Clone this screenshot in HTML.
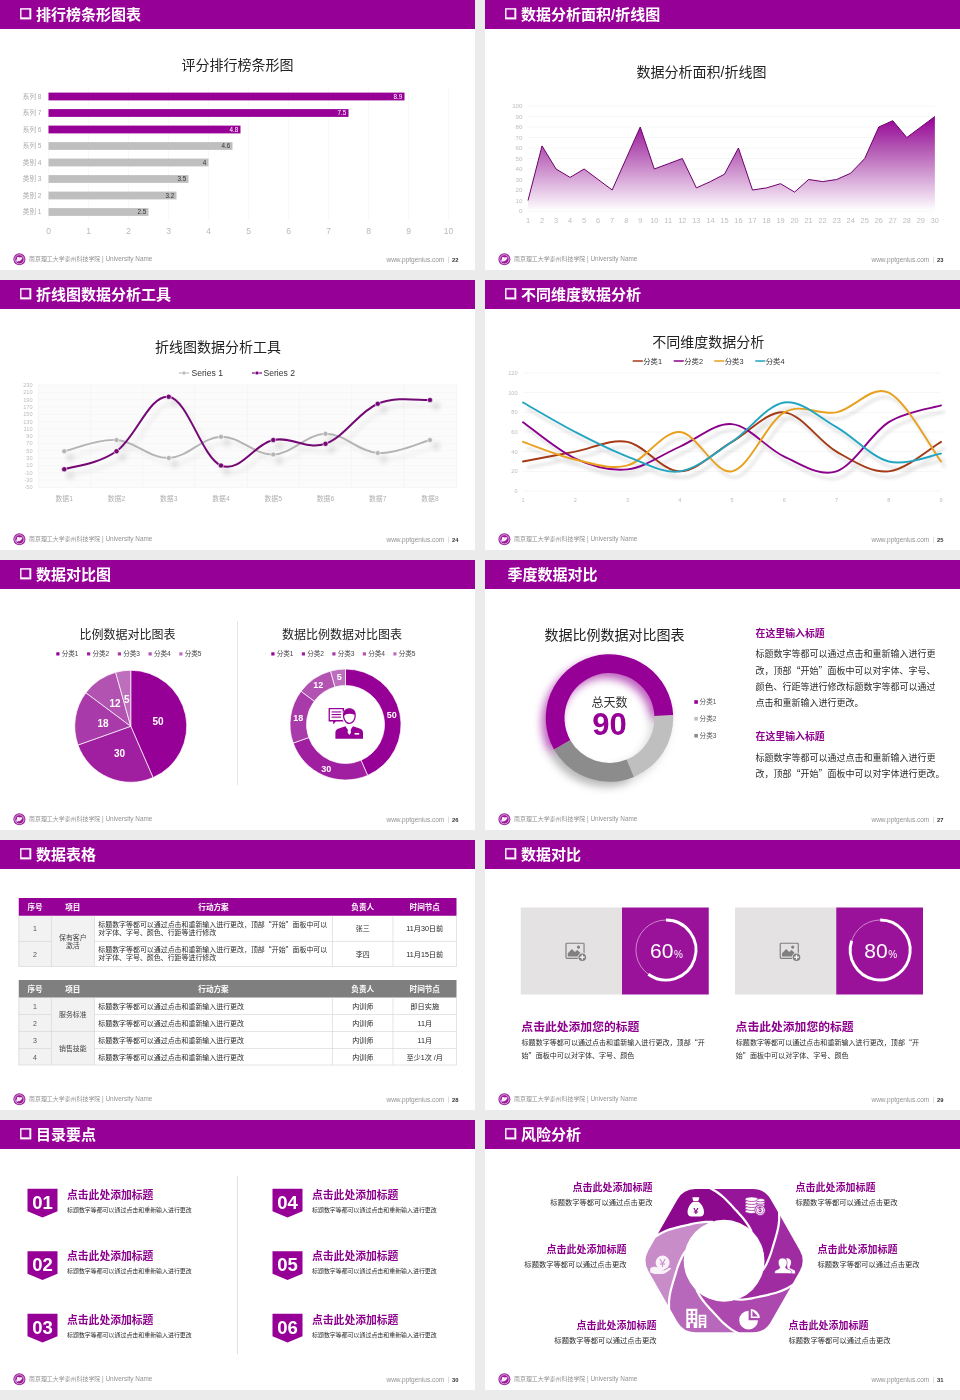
<!DOCTYPE html>
<html lang="zh-CN">
<head>
<meta charset="utf-8">
<title>数据图表模板</title>
<style>
html,body{margin:0;padding:0;}
body{width:960px;height:1400px;background:#ebebeb;position:relative;overflow:hidden;font-family:"Liberation Sans", "Noto Sans CJK SC", sans-serif;}
.s{position:absolute;display:block;}
.s text{font-family:"Liberation Sans", "Noto Sans CJK SC", sans-serif;}
.s text.cj{font-family:"Noto Sans CJK SC","Liberation Sans",sans-serif;}
</style>
</head>
<body>
<svg class="s" style="left:0px;top:0px" width="475" height="270" viewBox="0 0 475 270"><rect width="475" height="270" fill="#fff"/><rect x="0" y="0" width="475" height="29" fill="#960096"/><rect x="20.1" y="8.2" width="11.2" height="11.2" fill="#fff"/><rect x="21.5" y="9.6" width="7.5" height="7.5" fill="#960096"/><rect x="29" y="9.6" width="1" height="8.5" fill="#d9a3d9"/><rect x="21.5" y="17.1" width="8.5" height="1" fill="#d9a3d9"/><text x="36.00" y="19.70" font-size="15" fill="#fff" font-weight="bold">排行榜条形图表</text><text x="237.50" y="70.04" font-size="14" fill="#222" text-anchor="middle">评分排行榜条形图</text><rect x="48.25" y="88" width="0.5" height="132" fill="#f0f0f0"/><text x="48.50" y="234.06" font-size="8.5" fill="#b9b9b9" text-anchor="middle">0</text><rect x="88.25" y="88" width="0.5" height="132" fill="#f0f0f0"/><text x="88.50" y="234.06" font-size="8.5" fill="#b9b9b9" text-anchor="middle">1</text><rect x="128.25" y="88" width="0.5" height="132" fill="#f0f0f0"/><text x="128.50" y="234.06" font-size="8.5" fill="#b9b9b9" text-anchor="middle">2</text><rect x="168.25" y="88" width="0.5" height="132" fill="#f0f0f0"/><text x="168.50" y="234.06" font-size="8.5" fill="#b9b9b9" text-anchor="middle">3</text><rect x="208.25" y="88" width="0.5" height="132" fill="#f0f0f0"/><text x="208.50" y="234.06" font-size="8.5" fill="#b9b9b9" text-anchor="middle">4</text><rect x="248.25" y="88" width="0.5" height="132" fill="#f0f0f0"/><text x="248.50" y="234.06" font-size="8.5" fill="#b9b9b9" text-anchor="middle">5</text><rect x="288.25" y="88" width="0.5" height="132" fill="#f0f0f0"/><text x="288.50" y="234.06" font-size="8.5" fill="#b9b9b9" text-anchor="middle">6</text><rect x="328.25" y="88" width="0.5" height="132" fill="#f0f0f0"/><text x="328.50" y="234.06" font-size="8.5" fill="#b9b9b9" text-anchor="middle">7</text><rect x="368.25" y="88" width="0.5" height="132" fill="#f0f0f0"/><text x="368.50" y="234.06" font-size="8.5" fill="#b9b9b9" text-anchor="middle">8</text><rect x="408.25" y="88" width="0.5" height="132" fill="#f0f0f0"/><text x="408.50" y="234.06" font-size="8.5" fill="#b9b9b9" text-anchor="middle">9</text><rect x="448.25" y="88" width="0.5" height="132" fill="#f0f0f0"/><text x="448.50" y="234.06" font-size="8.5" fill="#b9b9b9" text-anchor="middle">10</text><rect x="48.5" y="92.60" width="356.00" height="7.8" fill="#960096"/><text x="41.50" y="98.98" font-size="6.6" fill="#ababab" text-anchor="end">系列 8</text><text x="402.30" y="98.97" font-size="6.3" fill="#fff" text-anchor="end">8.9</text><rect x="48.5" y="109.10" width="300.00" height="7.8" fill="#960096"/><text x="41.50" y="115.48" font-size="6.6" fill="#ababab" text-anchor="end">系列 7</text><text x="346.30" y="115.47" font-size="6.3" fill="#fff" text-anchor="end">7.5</text><rect x="48.5" y="125.60" width="192.00" height="7.8" fill="#960096"/><text x="41.50" y="131.98" font-size="6.6" fill="#ababab" text-anchor="end">系列 6</text><text x="238.30" y="131.97" font-size="6.3" fill="#fff" text-anchor="end">4.8</text><rect x="48.5" y="142.10" width="184.00" height="7.8" fill="#bfbfbf"/><text x="41.50" y="148.48" font-size="6.6" fill="#ababab" text-anchor="end">系列 5</text><text x="230.30" y="148.47" font-size="6.3" fill="#333" text-anchor="end">4.6</text><rect x="48.5" y="158.60" width="160.00" height="7.8" fill="#bfbfbf"/><text x="41.50" y="164.98" font-size="6.6" fill="#ababab" text-anchor="end">类别 4</text><text x="206.30" y="164.97" font-size="6.3" fill="#333" text-anchor="end">4</text><rect x="48.5" y="175.10" width="140.00" height="7.8" fill="#bfbfbf"/><text x="41.50" y="181.48" font-size="6.6" fill="#ababab" text-anchor="end">类别 3</text><text x="186.30" y="181.47" font-size="6.3" fill="#333" text-anchor="end">3.5</text><rect x="48.5" y="191.60" width="128.00" height="7.8" fill="#bfbfbf"/><text x="41.50" y="197.98" font-size="6.6" fill="#ababab" text-anchor="end">类别 2</text><text x="174.30" y="197.97" font-size="6.3" fill="#333" text-anchor="end">3.2</text><rect x="48.5" y="208.10" width="100.00" height="7.8" fill="#bfbfbf"/><text x="41.50" y="214.48" font-size="6.6" fill="#ababab" text-anchor="end">类别 1</text><text x="146.30" y="214.47" font-size="6.3" fill="#333" text-anchor="end">2.5</text><circle cx="19.4" cy="259.3" r="6" fill="#9a1a9a"/><circle cx="19.4" cy="259.3" r="4.6" fill="none" stroke="#fff" stroke-width="0.6"/><path d="M16 261.5 C16.5 257.5 19 256.5 22.6 257.6 C21.5 260.8 19.5 262 16 261.5 Z" fill="#fff" opacity="0.9"/><circle cx="18" cy="258" r="1.1" fill="#fff"/><text x="29.00" y="261.44" font-size="5.95" fill="#939393">南京理工大学泰州科技学院<tspan font-size="6.4"> | University Name</tspan></text><text x="444.30" y="261.94" font-size="6.5" fill="#939393" text-anchor="end">www.pptgenius.com</text><rect x="448.2" y="256.6" width="0.6" height="6.4" fill="#c8c8c8"/><text x="452.00" y="261.79" font-size="5.8" fill="#333" font-weight="bold">22</text></svg>
<svg class="s" style="left:485px;top:0px" width="475" height="270" viewBox="0 0 475 270"><rect width="475" height="270" fill="#fff"/><rect x="0" y="0" width="475" height="29" fill="#960096"/><rect x="20.1" y="8.2" width="11.2" height="11.2" fill="#fff"/><rect x="21.5" y="9.6" width="7.5" height="7.5" fill="#960096"/><rect x="29" y="9.6" width="1" height="8.5" fill="#d9a3d9"/><rect x="21.5" y="17.1" width="8.5" height="1" fill="#d9a3d9"/><text x="36.00" y="19.70" font-size="15" fill="#fff" font-weight="bold">数据分析面积/折线图</text><text x="216.50" y="76.54" font-size="14" fill="#222" text-anchor="middle">数据分析面积/折线图</text><defs><linearGradient id="ga" x1="0" y1="0" x2="0" y2="1" gradientUnits="objectBoundingBox"><stop offset="0" stop-color="#960096"/><stop offset="0.35" stop-color="#b45ab4"/><stop offset="0.7" stop-color="#dcb2dc"/><stop offset="1" stop-color="#ffffff"/></linearGradient></defs><rect x="43.0" y="210.75" width="406.87" height="0.5" fill="#efefef"/><text x="37.50" y="213.23" font-size="6.2" fill="#bdbdbd" text-anchor="end">0</text><rect x="43.0" y="200.25" width="406.87" height="0.5" fill="#efefef"/><text x="37.50" y="202.73" font-size="6.2" fill="#bdbdbd" text-anchor="end">10</text><rect x="43.0" y="189.75" width="406.87" height="0.5" fill="#efefef"/><text x="37.50" y="192.23" font-size="6.2" fill="#bdbdbd" text-anchor="end">20</text><rect x="43.0" y="179.25" width="406.87" height="0.5" fill="#efefef"/><text x="37.50" y="181.73" font-size="6.2" fill="#bdbdbd" text-anchor="end">30</text><rect x="43.0" y="168.75" width="406.87" height="0.5" fill="#efefef"/><text x="37.50" y="171.23" font-size="6.2" fill="#bdbdbd" text-anchor="end">40</text><rect x="43.0" y="158.25" width="406.87" height="0.5" fill="#efefef"/><text x="37.50" y="160.73" font-size="6.2" fill="#bdbdbd" text-anchor="end">50</text><rect x="43.0" y="147.75" width="406.87" height="0.5" fill="#efefef"/><text x="37.50" y="150.23" font-size="6.2" fill="#bdbdbd" text-anchor="end">60</text><rect x="43.0" y="137.25" width="406.87" height="0.5" fill="#efefef"/><text x="37.50" y="139.73" font-size="6.2" fill="#bdbdbd" text-anchor="end">70</text><rect x="43.0" y="126.75" width="406.87" height="0.5" fill="#efefef"/><text x="37.50" y="129.23" font-size="6.2" fill="#bdbdbd" text-anchor="end">80</text><rect x="43.0" y="116.25" width="406.87" height="0.5" fill="#efefef"/><text x="37.50" y="118.73" font-size="6.2" fill="#bdbdbd" text-anchor="end">90</text><rect x="43.0" y="105.75" width="406.87" height="0.5" fill="#efefef"/><text x="37.50" y="108.23" font-size="6.2" fill="#bdbdbd" text-anchor="end">100</text><path d="M43.00 200.50 L57.03 145.90 L71.06 169.00 L85.09 177.40 L99.12 169.00 L113.15 179.50 L127.18 190.00 L141.21 158.50 L155.24 127.00 L169.27 169.00 L183.30 163.75 L197.33 158.50 L211.36 187.90 L225.39 181.60 L239.42 174.25 L253.45 148.00 L267.48 190.00 L281.51 187.90 L295.54 183.70 L309.57 192.10 L323.60 179.50 L337.63 181.60 L351.66 179.50 L365.69 173.20 L379.72 158.50 L393.75 127.00 L407.78 120.70 L421.81 137.50 L435.84 127.00 L449.87 116.50 L449.87 211.0 L43.0 211.0 Z" fill="url(#ga)"/><path d="M43.00 200.50 L57.03 145.90 L71.06 169.00 L85.09 177.40 L99.12 169.00 L113.15 179.50 L127.18 190.00 L141.21 158.50 L155.24 127.00 L169.27 169.00 L183.30 163.75 L197.33 158.50 L211.36 187.90 L225.39 181.60 L239.42 174.25 L253.45 148.00 L267.48 190.00 L281.51 187.90 L295.54 183.70 L309.57 192.10 L323.60 179.50 L337.63 181.60 L351.66 179.50 L365.69 173.20 L379.72 158.50 L393.75 127.00 L407.78 120.70 L421.81 137.50 L435.84 127.00 L449.87 116.50" fill="none" stroke="#6e006e" stroke-width="1" stroke-linejoin="round"/><text x="43.00" y="223.16" font-size="7.4" fill="#bdbdbd" text-anchor="middle">1</text><text x="57.03" y="223.16" font-size="7.4" fill="#bdbdbd" text-anchor="middle">2</text><text x="71.06" y="223.16" font-size="7.4" fill="#bdbdbd" text-anchor="middle">3</text><text x="85.09" y="223.16" font-size="7.4" fill="#bdbdbd" text-anchor="middle">4</text><text x="99.12" y="223.16" font-size="7.4" fill="#bdbdbd" text-anchor="middle">5</text><text x="113.15" y="223.16" font-size="7.4" fill="#bdbdbd" text-anchor="middle">6</text><text x="127.18" y="223.16" font-size="7.4" fill="#bdbdbd" text-anchor="middle">7</text><text x="141.21" y="223.16" font-size="7.4" fill="#bdbdbd" text-anchor="middle">8</text><text x="155.24" y="223.16" font-size="7.4" fill="#bdbdbd" text-anchor="middle">9</text><text x="169.27" y="223.16" font-size="7.4" fill="#bdbdbd" text-anchor="middle">10</text><text x="183.30" y="223.16" font-size="7.4" fill="#bdbdbd" text-anchor="middle">11</text><text x="197.33" y="223.16" font-size="7.4" fill="#bdbdbd" text-anchor="middle">12</text><text x="211.36" y="223.16" font-size="7.4" fill="#bdbdbd" text-anchor="middle">13</text><text x="225.39" y="223.16" font-size="7.4" fill="#bdbdbd" text-anchor="middle">14</text><text x="239.42" y="223.16" font-size="7.4" fill="#bdbdbd" text-anchor="middle">15</text><text x="253.45" y="223.16" font-size="7.4" fill="#bdbdbd" text-anchor="middle">16</text><text x="267.48" y="223.16" font-size="7.4" fill="#bdbdbd" text-anchor="middle">17</text><text x="281.51" y="223.16" font-size="7.4" fill="#bdbdbd" text-anchor="middle">18</text><text x="295.54" y="223.16" font-size="7.4" fill="#bdbdbd" text-anchor="middle">19</text><text x="309.57" y="223.16" font-size="7.4" fill="#bdbdbd" text-anchor="middle">20</text><text x="323.60" y="223.16" font-size="7.4" fill="#bdbdbd" text-anchor="middle">21</text><text x="337.63" y="223.16" font-size="7.4" fill="#bdbdbd" text-anchor="middle">22</text><text x="351.66" y="223.16" font-size="7.4" fill="#bdbdbd" text-anchor="middle">23</text><text x="365.69" y="223.16" font-size="7.4" fill="#bdbdbd" text-anchor="middle">24</text><text x="379.72" y="223.16" font-size="7.4" fill="#bdbdbd" text-anchor="middle">25</text><text x="393.75" y="223.16" font-size="7.4" fill="#bdbdbd" text-anchor="middle">26</text><text x="407.78" y="223.16" font-size="7.4" fill="#bdbdbd" text-anchor="middle">27</text><text x="421.81" y="223.16" font-size="7.4" fill="#bdbdbd" text-anchor="middle">28</text><text x="435.84" y="223.16" font-size="7.4" fill="#bdbdbd" text-anchor="middle">29</text><text x="449.87" y="223.16" font-size="7.4" fill="#bdbdbd" text-anchor="middle">30</text><circle cx="19.4" cy="259.3" r="6" fill="#9a1a9a"/><circle cx="19.4" cy="259.3" r="4.6" fill="none" stroke="#fff" stroke-width="0.6"/><path d="M16 261.5 C16.5 257.5 19 256.5 22.6 257.6 C21.5 260.8 19.5 262 16 261.5 Z" fill="#fff" opacity="0.9"/><circle cx="18" cy="258" r="1.1" fill="#fff"/><text x="29.00" y="261.44" font-size="5.95" fill="#939393">南京理工大学泰州科技学院<tspan font-size="6.4"> | University Name</tspan></text><text x="444.30" y="261.94" font-size="6.5" fill="#939393" text-anchor="end">www.pptgenius.com</text><rect x="448.2" y="256.6" width="0.6" height="6.4" fill="#c8c8c8"/><text x="452.00" y="261.79" font-size="5.8" fill="#333" font-weight="bold">23</text></svg>
<svg class="s" style="left:0px;top:280px" width="475" height="270" viewBox="0 0 475 270"><rect width="475" height="270" fill="#fff"/><rect x="0" y="0" width="475" height="29" fill="#960096"/><rect x="20.1" y="8.2" width="11.2" height="11.2" fill="#fff"/><rect x="21.5" y="9.6" width="7.5" height="7.5" fill="#960096"/><rect x="29" y="9.6" width="1" height="8.5" fill="#d9a3d9"/><rect x="21.5" y="17.1" width="8.5" height="1" fill="#d9a3d9"/><text x="36.00" y="19.70" font-size="15" fill="#fff" font-weight="bold">折线图数据分析工具</text><defs><filter id="sh2" x="-10%" y="-30%" width="120%" height="180%"><feGaussianBlur stdDeviation="2.2"/></filter></defs><text x="218.00" y="72.04" font-size="14" fill="#222" text-anchor="middle">折线图数据分析工具</text><rect x="179" y="92.4" width="10" height="1.2" fill="#bdbdbd"/><circle cx="184" cy="93" r="1.9" fill="#b5b5b5" stroke="#fff" stroke-width="0.6"/><text x="191.50" y="96.10" font-size="8.6" fill="#333">Series 1</text><rect x="252" y="92.4" width="10" height="1.2" fill="#7d007d"/><circle cx="257" cy="93" r="1.9" fill="#7d007d" stroke="#fff" stroke-width="0.6"/><text x="263.50" y="96.10" font-size="8.6" fill="#333">Series 2</text><rect x="38.5" y="105.0" width="418.0" height="102.30000000000001" fill="#fbfbfb" stroke="#f0f0f0" stroke-width="0.6"/><text x="32.50" y="107.02" font-size="5.6" fill="#bdbdbd" text-anchor="end">230</text><rect x="38.5" y="112.06" width="418.0" height="0.5" fill="#f3f3f3"/><text x="32.50" y="114.32" font-size="5.6" fill="#bdbdbd" text-anchor="end">210</text><rect x="38.5" y="119.36" width="418.0" height="0.5" fill="#f3f3f3"/><text x="32.50" y="121.63" font-size="5.6" fill="#bdbdbd" text-anchor="end">190</text><rect x="38.5" y="126.67" width="418.0" height="0.5" fill="#f3f3f3"/><text x="32.50" y="128.94" font-size="5.6" fill="#bdbdbd" text-anchor="end">170</text><rect x="38.5" y="133.98" width="418.0" height="0.5" fill="#f3f3f3"/><text x="32.50" y="136.24" font-size="5.6" fill="#bdbdbd" text-anchor="end">150</text><rect x="38.5" y="141.29" width="418.0" height="0.5" fill="#f3f3f3"/><text x="32.50" y="143.55" font-size="5.6" fill="#bdbdbd" text-anchor="end">130</text><rect x="38.5" y="148.59" width="418.0" height="0.5" fill="#f3f3f3"/><text x="32.50" y="150.86" font-size="5.6" fill="#bdbdbd" text-anchor="end">110</text><rect x="38.5" y="155.90" width="418.0" height="0.5" fill="#f3f3f3"/><text x="32.50" y="158.17" font-size="5.6" fill="#bdbdbd" text-anchor="end">90</text><rect x="38.5" y="163.21" width="418.0" height="0.5" fill="#f3f3f3"/><text x="32.50" y="165.47" font-size="5.6" fill="#bdbdbd" text-anchor="end">70</text><rect x="38.5" y="170.51" width="418.0" height="0.5" fill="#f3f3f3"/><text x="32.50" y="172.78" font-size="5.6" fill="#bdbdbd" text-anchor="end">50</text><rect x="38.5" y="177.82" width="418.0" height="0.5" fill="#f3f3f3"/><text x="32.50" y="180.09" font-size="5.6" fill="#bdbdbd" text-anchor="end">30</text><rect x="38.5" y="185.13" width="418.0" height="0.5" fill="#f3f3f3"/><text x="32.50" y="187.39" font-size="5.6" fill="#bdbdbd" text-anchor="end">10</text><rect x="38.5" y="192.44" width="418.0" height="0.5" fill="#f3f3f3"/><text x="32.50" y="194.70" font-size="5.6" fill="#bdbdbd" text-anchor="end">-10</text><rect x="38.5" y="199.74" width="418.0" height="0.5" fill="#f3f3f3"/><text x="32.50" y="202.01" font-size="5.6" fill="#bdbdbd" text-anchor="end">-30</text><text x="32.50" y="209.32" font-size="5.6" fill="#bdbdbd" text-anchor="end">-50</text><rect x="90.12" y="105.0" width="0.5" height="102.30000000000001" fill="#f0f0f0"/><rect x="142.38" y="105.0" width="0.5" height="102.30000000000001" fill="#f0f0f0"/><rect x="194.62" y="105.0" width="0.5" height="102.30000000000001" fill="#f0f0f0"/><rect x="246.88" y="105.0" width="0.5" height="102.30000000000001" fill="#f0f0f0"/><rect x="299.12" y="105.0" width="0.5" height="102.30000000000001" fill="#f0f0f0"/><rect x="351.38" y="105.0" width="0.5" height="102.30000000000001" fill="#f0f0f0"/><rect x="403.62" y="105.0" width="0.5" height="102.30000000000001" fill="#f0f0f0"/><text x="64.25" y="221.45" font-size="6.8" fill="#b0b0b0" text-anchor="middle">数据1</text><text x="116.50" y="221.45" font-size="6.8" fill="#b0b0b0" text-anchor="middle">数据2</text><text x="168.75" y="221.45" font-size="6.8" fill="#b0b0b0" text-anchor="middle">数据3</text><text x="221.00" y="221.45" font-size="6.8" fill="#b0b0b0" text-anchor="middle">数据4</text><text x="273.25" y="221.45" font-size="6.8" fill="#b0b0b0" text-anchor="middle">数据5</text><text x="325.50" y="221.45" font-size="6.8" fill="#b0b0b0" text-anchor="middle">数据6</text><text x="377.75" y="221.45" font-size="6.8" fill="#b0b0b0" text-anchor="middle">数据7</text><text x="430.00" y="221.45" font-size="6.8" fill="#b0b0b0" text-anchor="middle">数据8</text><g filter="url(#sh2)" opacity="0.12" transform="translate(6 6)"><path d="M64.25 171.25 C73.83 169.19 97.34 158.76 116.50 160.00 C135.66 161.24 149.59 178.60 168.75 178.00 C187.91 177.40 201.84 157.39 221.00 156.75 C240.16 156.11 254.09 175.05 273.25 174.50 C292.41 173.95 306.34 154.03 325.50 153.75 C344.66 153.47 358.59 171.85 377.75 173.00 C396.91 174.15 420.42 162.38 430.00 160.00" fill="none" stroke="#777" stroke-width="2"/><path d="M64.25 189.25 C73.83 185.95 97.34 184.54 116.50 171.25 C135.66 157.96 149.59 114.14 168.75 116.75 C187.91 119.36 201.84 177.57 221.00 185.50 C240.16 193.43 254.09 163.99 273.25 160.00 C292.41 156.01 306.34 170.40 325.50 163.75 C344.66 157.10 358.59 131.77 377.75 123.75 C396.91 115.73 420.42 120.69 430.00 120.00" fill="none" stroke="#705070" stroke-width="2"/><circle cx="64.25" cy="171.25" r="4" fill="#333"/><circle cx="116.50" cy="160.00" r="4" fill="#333"/><circle cx="168.75" cy="178.00" r="4" fill="#333"/><circle cx="221.00" cy="156.75" r="4" fill="#333"/><circle cx="273.25" cy="174.50" r="4" fill="#333"/><circle cx="325.50" cy="153.75" r="4" fill="#333"/><circle cx="377.75" cy="173.00" r="4" fill="#333"/><circle cx="430.00" cy="160.00" r="4" fill="#333"/><circle cx="64.25" cy="189.25" r="4" fill="#333"/><circle cx="116.50" cy="171.25" r="4" fill="#333"/><circle cx="168.75" cy="116.75" r="4" fill="#333"/><circle cx="221.00" cy="185.50" r="4" fill="#333"/><circle cx="273.25" cy="160.00" r="4" fill="#333"/><circle cx="325.50" cy="163.75" r="4" fill="#333"/><circle cx="377.75" cy="123.75" r="4" fill="#333"/><circle cx="430.00" cy="120.00" r="4" fill="#333"/></g><path d="M64.25 171.25 C73.83 169.19 97.34 158.76 116.50 160.00 C135.66 161.24 149.59 178.60 168.75 178.00 C187.91 177.40 201.84 157.39 221.00 156.75 C240.16 156.11 254.09 175.05 273.25 174.50 C292.41 173.95 306.34 154.03 325.50 153.75 C344.66 153.47 358.59 171.85 377.75 173.00 C396.91 174.15 420.42 162.38 430.00 160.00" fill="none" stroke="#b4b4b4" stroke-width="1.9" stroke-linecap="round"/><path d="M64.25 189.25 C73.83 185.95 97.34 184.54 116.50 171.25 C135.66 157.96 149.59 114.14 168.75 116.75 C187.91 119.36 201.84 177.57 221.00 185.50 C240.16 193.43 254.09 163.99 273.25 160.00 C292.41 156.01 306.34 170.40 325.50 163.75 C344.66 157.10 358.59 131.77 377.75 123.75 C396.91 115.73 420.42 120.69 430.00 120.00" fill="none" stroke="#740874" stroke-width="2" stroke-linecap="round"/><circle cx="64.25" cy="171.25" r="2.5" fill="#b4b4b4" stroke="#fff" stroke-width="0.6"/><circle cx="116.50" cy="160.00" r="2.5" fill="#b4b4b4" stroke="#fff" stroke-width="0.6"/><circle cx="168.75" cy="178.00" r="2.5" fill="#b4b4b4" stroke="#fff" stroke-width="0.6"/><circle cx="221.00" cy="156.75" r="2.5" fill="#b4b4b4" stroke="#fff" stroke-width="0.6"/><circle cx="273.25" cy="174.50" r="2.5" fill="#b4b4b4" stroke="#fff" stroke-width="0.6"/><circle cx="325.50" cy="153.75" r="2.5" fill="#b4b4b4" stroke="#fff" stroke-width="0.6"/><circle cx="377.75" cy="173.00" r="2.5" fill="#b4b4b4" stroke="#fff" stroke-width="0.6"/><circle cx="430.00" cy="160.00" r="2.5" fill="#b4b4b4" stroke="#fff" stroke-width="0.6"/><circle cx="64.25" cy="189.25" r="2.6" fill="#740874" stroke="#fff" stroke-width="0.6"/><circle cx="116.50" cy="171.25" r="2.6" fill="#740874" stroke="#fff" stroke-width="0.6"/><circle cx="168.75" cy="116.75" r="2.6" fill="#740874" stroke="#fff" stroke-width="0.6"/><circle cx="221.00" cy="185.50" r="2.6" fill="#740874" stroke="#fff" stroke-width="0.6"/><circle cx="273.25" cy="160.00" r="2.6" fill="#740874" stroke="#fff" stroke-width="0.6"/><circle cx="325.50" cy="163.75" r="2.6" fill="#740874" stroke="#fff" stroke-width="0.6"/><circle cx="377.75" cy="123.75" r="2.6" fill="#740874" stroke="#fff" stroke-width="0.6"/><circle cx="430.00" cy="120.00" r="2.6" fill="#740874" stroke="#fff" stroke-width="0.6"/><circle cx="19.4" cy="259.3" r="6" fill="#9a1a9a"/><circle cx="19.4" cy="259.3" r="4.6" fill="none" stroke="#fff" stroke-width="0.6"/><path d="M16 261.5 C16.5 257.5 19 256.5 22.6 257.6 C21.5 260.8 19.5 262 16 261.5 Z" fill="#fff" opacity="0.9"/><circle cx="18" cy="258" r="1.1" fill="#fff"/><text x="29.00" y="261.44" font-size="5.95" fill="#939393">南京理工大学泰州科技学院<tspan font-size="6.4"> | University Name</tspan></text><text x="444.30" y="261.94" font-size="6.5" fill="#939393" text-anchor="end">www.pptgenius.com</text><rect x="448.2" y="256.6" width="0.6" height="6.4" fill="#c8c8c8"/><text x="452.00" y="261.79" font-size="5.8" fill="#333" font-weight="bold">24</text></svg>
<svg class="s" style="left:485px;top:280px" width="475" height="270" viewBox="0 0 475 270"><rect width="475" height="270" fill="#fff"/><rect x="0" y="0" width="475" height="29" fill="#960096"/><rect x="20.1" y="8.2" width="11.2" height="11.2" fill="#fff"/><rect x="21.5" y="9.6" width="7.5" height="7.5" fill="#960096"/><rect x="29" y="9.6" width="1" height="8.5" fill="#d9a3d9"/><rect x="21.5" y="17.1" width="8.5" height="1" fill="#d9a3d9"/><text x="36.00" y="19.70" font-size="15" fill="#fff" font-weight="bold">不同维度数据分析</text><defs><filter id="sh4" x="-10%" y="-30%" width="120%" height="180%"><feGaussianBlur stdDeviation="1.8"/></filter></defs><text x="223.30" y="67.04" font-size="14" fill="#222" text-anchor="middle">不同维度数据分析</text><rect x="147.5" y="80.3" width="10.5" height="1.5" rx="0.7" fill="#a53a16"/><text x="158.20" y="83.66" font-size="7.4" fill="#333">分类1</text><rect x="188.5" y="80.3" width="10.5" height="1.5" rx="0.7" fill="#8b008b"/><text x="199.20" y="83.66" font-size="7.4" fill="#333">分类2</text><rect x="229" y="80.3" width="10.5" height="1.5" rx="0.7" fill="#e8a01e"/><text x="239.70" y="83.66" font-size="7.4" fill="#333">分类3</text><rect x="270" y="80.3" width="10.5" height="1.5" rx="0.7" fill="#22a5c0"/><text x="280.70" y="83.66" font-size="7.4" fill="#333">分类4</text><rect x="38.0" y="210.75" width="418.0" height="0.5" fill="#efefef"/><text x="32.50" y="213.02" font-size="5.6" fill="#bdbdbd" text-anchor="end">0</text><rect x="38.0" y="191.08" width="418.0" height="0.5" fill="#efefef"/><text x="32.50" y="193.35" font-size="5.6" fill="#bdbdbd" text-anchor="end">20</text><rect x="38.0" y="171.42" width="418.0" height="0.5" fill="#efefef"/><text x="32.50" y="173.68" font-size="5.6" fill="#bdbdbd" text-anchor="end">40</text><rect x="38.0" y="151.75" width="418.0" height="0.5" fill="#efefef"/><text x="32.50" y="154.02" font-size="5.6" fill="#bdbdbd" text-anchor="end">60</text><rect x="38.0" y="132.08" width="418.0" height="0.5" fill="#efefef"/><text x="32.50" y="134.35" font-size="5.6" fill="#bdbdbd" text-anchor="end">80</text><rect x="38.0" y="112.42" width="418.0" height="0.5" fill="#efefef"/><text x="32.50" y="114.68" font-size="5.6" fill="#bdbdbd" text-anchor="end">100</text><rect x="38.0" y="92.75" width="418.0" height="0.5" fill="#efefef"/><text x="32.50" y="95.02" font-size="5.6" fill="#bdbdbd" text-anchor="end">120</text><text x="38.00" y="222.02" font-size="5.6" fill="#bdbdbd" text-anchor="middle">1</text><text x="90.25" y="222.02" font-size="5.6" fill="#bdbdbd" text-anchor="middle">2</text><text x="142.50" y="222.02" font-size="5.6" fill="#bdbdbd" text-anchor="middle">3</text><text x="194.75" y="222.02" font-size="5.6" fill="#bdbdbd" text-anchor="middle">4</text><text x="247.00" y="222.02" font-size="5.6" fill="#bdbdbd" text-anchor="middle">5</text><text x="299.25" y="222.02" font-size="5.6" fill="#bdbdbd" text-anchor="middle">6</text><text x="351.50" y="222.02" font-size="5.6" fill="#bdbdbd" text-anchor="middle">7</text><text x="403.75" y="222.02" font-size="5.6" fill="#bdbdbd" text-anchor="middle">8</text><text x="456.00" y="222.02" font-size="5.6" fill="#bdbdbd" text-anchor="middle">9</text><g filter="url(#sh4)" opacity="0.14" transform="translate(4 6)"><path d="M38.00 181.50 C46.71 179.86 72.83 174.94 90.25 171.67 C107.67 168.39 125.08 158.56 142.50 161.83 C159.92 165.11 177.33 191.33 194.75 191.33 C212.17 191.33 229.58 171.67 247.00 161.83 C264.42 152.00 281.83 130.69 299.25 132.33 C316.67 133.97 334.08 161.83 351.50 171.67 C368.92 181.50 386.33 192.97 403.75 191.33 C421.17 189.69 447.29 166.75 456.00 161.83" fill="none" stroke="#555" stroke-width="3"/><path d="M38.00 142.17 C46.71 148.23 72.83 170.68 90.25 178.55 C107.67 186.42 125.08 191.33 142.50 189.37 C159.92 187.40 177.33 174.29 194.75 166.75 C212.17 159.21 229.58 142.49 247.00 144.13 C264.42 145.77 281.83 168.72 299.25 176.58 C316.67 184.45 334.08 197.07 351.50 191.33 C368.92 185.60 386.33 153.15 403.75 142.17 C421.17 131.19 447.29 128.24 456.00 125.45" fill="none" stroke="#555" stroke-width="3"/><path d="M38.00 161.83 C46.71 164.78 72.83 175.60 90.25 179.53 C107.67 183.47 125.08 190.02 142.50 185.43 C159.92 180.84 177.33 151.02 194.75 152.00 C212.17 152.98 229.58 194.61 247.00 191.33 C264.42 188.06 281.83 142.17 299.25 132.33 C316.67 122.50 334.08 135.61 351.50 132.33 C368.92 129.06 386.33 104.47 403.75 112.67 C421.17 120.86 447.29 170.03 456.00 181.50" fill="none" stroke="#555" stroke-width="3"/><path d="M38.00 122.50 C46.71 127.42 72.83 142.99 90.25 152.00 C107.67 161.01 125.08 170.03 142.50 176.58 C159.92 183.14 177.33 193.79 194.75 191.33 C212.17 188.88 229.58 173.31 247.00 161.83 C264.42 150.36 281.83 124.96 299.25 122.50 C316.67 120.04 334.08 137.25 351.50 147.08 C368.92 156.92 386.33 177.07 403.75 181.50 C421.17 185.93 447.29 174.94 456.00 173.63" fill="none" stroke="#555" stroke-width="3"/></g><path d="M38.00 181.50 C46.71 179.86 72.83 174.94 90.25 171.67 C107.67 168.39 125.08 158.56 142.50 161.83 C159.92 165.11 177.33 191.33 194.75 191.33 C212.17 191.33 229.58 171.67 247.00 161.83 C264.42 152.00 281.83 130.69 299.25 132.33 C316.67 133.97 334.08 161.83 351.50 171.67 C368.92 181.50 386.33 192.97 403.75 191.33 C421.17 189.69 447.29 166.75 456.00 161.83" fill="none" stroke="#a53a16" stroke-width="1.9" stroke-linecap="round"/><path d="M38.00 142.17 C46.71 148.23 72.83 170.68 90.25 178.55 C107.67 186.42 125.08 191.33 142.50 189.37 C159.92 187.40 177.33 174.29 194.75 166.75 C212.17 159.21 229.58 142.49 247.00 144.13 C264.42 145.77 281.83 168.72 299.25 176.58 C316.67 184.45 334.08 197.07 351.50 191.33 C368.92 185.60 386.33 153.15 403.75 142.17 C421.17 131.19 447.29 128.24 456.00 125.45" fill="none" stroke="#8b008b" stroke-width="1.9" stroke-linecap="round"/><path d="M38.00 161.83 C46.71 164.78 72.83 175.60 90.25 179.53 C107.67 183.47 125.08 190.02 142.50 185.43 C159.92 180.84 177.33 151.02 194.75 152.00 C212.17 152.98 229.58 194.61 247.00 191.33 C264.42 188.06 281.83 142.17 299.25 132.33 C316.67 122.50 334.08 135.61 351.50 132.33 C368.92 129.06 386.33 104.47 403.75 112.67 C421.17 120.86 447.29 170.03 456.00 181.50" fill="none" stroke="#e8a01e" stroke-width="1.9" stroke-linecap="round"/><path d="M38.00 122.50 C46.71 127.42 72.83 142.99 90.25 152.00 C107.67 161.01 125.08 170.03 142.50 176.58 C159.92 183.14 177.33 193.79 194.75 191.33 C212.17 188.88 229.58 173.31 247.00 161.83 C264.42 150.36 281.83 124.96 299.25 122.50 C316.67 120.04 334.08 137.25 351.50 147.08 C368.92 156.92 386.33 177.07 403.75 181.50 C421.17 185.93 447.29 174.94 456.00 173.63" fill="none" stroke="#22a5c0" stroke-width="1.9" stroke-linecap="round"/><circle cx="19.4" cy="259.3" r="6" fill="#9a1a9a"/><circle cx="19.4" cy="259.3" r="4.6" fill="none" stroke="#fff" stroke-width="0.6"/><path d="M16 261.5 C16.5 257.5 19 256.5 22.6 257.6 C21.5 260.8 19.5 262 16 261.5 Z" fill="#fff" opacity="0.9"/><circle cx="18" cy="258" r="1.1" fill="#fff"/><text x="29.00" y="261.44" font-size="5.95" fill="#939393">南京理工大学泰州科技学院<tspan font-size="6.4"> | University Name</tspan></text><text x="444.30" y="261.94" font-size="6.5" fill="#939393" text-anchor="end">www.pptgenius.com</text><rect x="448.2" y="256.6" width="0.6" height="6.4" fill="#c8c8c8"/><text x="452.00" y="261.79" font-size="5.8" fill="#333" font-weight="bold">25</text></svg>
<svg class="s" style="left:0px;top:560px" width="475" height="270" viewBox="0 0 475 270"><rect width="475" height="270" fill="#fff"/><rect x="0" y="0" width="475" height="29" fill="#960096"/><rect x="20.1" y="8.2" width="11.2" height="11.2" fill="#fff"/><rect x="21.5" y="9.6" width="7.5" height="7.5" fill="#960096"/><rect x="29" y="9.6" width="1" height="8.5" fill="#d9a3d9"/><rect x="21.5" y="17.1" width="8.5" height="1" fill="#d9a3d9"/><text x="36.00" y="19.70" font-size="15" fill="#fff" font-weight="bold">数据对比图</text><text x="127.50" y="78.62" font-size="12" fill="#222" text-anchor="middle">比例数据对比图表</text><rect x="56.30" y="92.3" width="3.2" height="3.2" fill="#960096"/><text x="61.70" y="96.18" font-size="6.6" fill="#444">分类1</text><rect x="87.05" y="92.3" width="3.2" height="3.2" fill="#a01ea0"/><text x="92.45" y="96.18" font-size="6.6" fill="#444">分类2</text><rect x="117.80" y="92.3" width="3.2" height="3.2" fill="#a93aa9"/><text x="123.20" y="96.18" font-size="6.6" fill="#444">分类3</text><rect x="148.55" y="92.3" width="3.2" height="3.2" fill="#b253b2"/><text x="153.95" y="96.18" font-size="6.6" fill="#444">分类4</text><rect x="179.30" y="92.3" width="3.2" height="3.2" fill="#bd6fbd"/><text x="184.70" y="96.18" font-size="6.6" fill="#444">分类5</text><path d="M130.75 166.25 L130.75 110.25 A56 56 0 0 1 153.06 217.61 Z" fill="#960096" stroke="#fff" stroke-width="0.7" stroke-linejoin="round"/><path d="M130.75 166.25 L153.06 217.61 A56 56 0 0 1 77.98 185.00 Z" fill="#a01ea0" stroke="#fff" stroke-width="0.7" stroke-linejoin="round"/><path d="M130.75 166.25 L77.98 185.00 A56 56 0 0 1 85.90 132.72 Z" fill="#a93aa9" stroke="#fff" stroke-width="0.7" stroke-linejoin="round"/><path d="M130.75 166.25 L85.90 132.72 A56 56 0 0 1 115.64 112.33 Z" fill="#b253b2" stroke="#fff" stroke-width="0.7" stroke-linejoin="round"/><path d="M130.75 166.25 L115.64 112.33 A56 56 0 0 1 130.75 110.25 Z" fill="#bd6fbd" stroke="#fff" stroke-width="0.7" stroke-linejoin="round"/><text x="158.00" y="164.90" font-size="10" fill="#fff" text-anchor="middle" font-weight="bold">50</text><text x="119.50" y="196.60" font-size="10" fill="#fff" text-anchor="middle" font-weight="bold">30</text><text x="103.00" y="166.60" font-size="10" fill="#fff" text-anchor="middle" font-weight="bold">18</text><text x="115.00" y="147.40" font-size="10" fill="#fff" text-anchor="middle" font-weight="bold">12</text><text x="126.80" y="142.90" font-size="10" fill="#fff" text-anchor="middle" font-weight="bold">5</text><rect x="237.2" y="61" width="0.7" height="164" fill="#dcdcdc"/><text x="342.00" y="78.62" font-size="12" fill="#222" text-anchor="middle">数据比例数据对比图表</text><rect x="271.30" y="92.3" width="3.2" height="3.2" fill="#960096"/><text x="276.70" y="96.18" font-size="6.6" fill="#444">分类1</text><rect x="301.80" y="92.3" width="3.2" height="3.2" fill="#a01ea0"/><text x="307.20" y="96.18" font-size="6.6" fill="#444">分类2</text><rect x="332.30" y="92.3" width="3.2" height="3.2" fill="#a93aa9"/><text x="337.70" y="96.18" font-size="6.6" fill="#444">分类3</text><rect x="362.80" y="92.3" width="3.2" height="3.2" fill="#b253b2"/><text x="368.20" y="96.18" font-size="6.6" fill="#444">分类4</text><rect x="393.30" y="92.3" width="3.2" height="3.2" fill="#bd6fbd"/><text x="398.70" y="96.18" font-size="6.6" fill="#444">分类5</text><path d="M345.50 109.00 A55.5 55.5 0 0 1 367.61 215.41 L361.04 200.27 A39 39 0 0 0 345.50 125.50 Z" fill="#960096" stroke="#fff" stroke-width="0.7" stroke-linejoin="round"/><path d="M367.61 215.41 A55.5 55.5 0 0 1 293.20 183.09 L308.75 177.56 A39 39 0 0 0 361.04 200.27 Z" fill="#a01ea0" stroke="#fff" stroke-width="0.7" stroke-linejoin="round"/><path d="M293.20 183.09 A55.5 55.5 0 0 1 301.05 131.27 L314.26 141.15 A39 39 0 0 0 308.75 177.56 Z" fill="#a93aa9" stroke="#fff" stroke-width="0.7" stroke-linejoin="round"/><path d="M301.05 131.27 A55.5 55.5 0 0 1 330.53 111.06 L334.98 126.95 A39 39 0 0 0 314.26 141.15 Z" fill="#b253b2" stroke="#fff" stroke-width="0.7" stroke-linejoin="round"/><path d="M330.53 111.06 A55.5 55.5 0 0 1 345.50 109.00 L345.50 125.50 A39 39 0 0 0 334.98 126.95 Z" fill="#bd6fbd" stroke="#fff" stroke-width="0.7" stroke-linejoin="round"/><text x="391.80" y="158.24" font-size="9" fill="#fff" text-anchor="middle" font-weight="bold">50</text><text x="326.30" y="212.04" font-size="9" fill="#fff" text-anchor="middle" font-weight="bold">30</text><text x="298.30" y="161.24" font-size="9" fill="#fff" text-anchor="middle" font-weight="bold">18</text><text x="318.30" y="128.24" font-size="9" fill="#fff" text-anchor="middle" font-weight="bold">12</text><text x="339.30" y="120.24" font-size="9" fill="#fff" text-anchor="middle" font-weight="bold">5</text><g fill="#960096"><path d="M328.6 148 h15.4 v13.4 h-8.2 l-2.6 3.2 v-3.2 h-4.6 Z M329.9 149.3 v10.8 h12.8 v-10.8 Z" fill-rule="evenodd"/><rect x="331.6" y="151.4" width="9.6" height="1.1"/><rect x="331.6" y="154" width="9.6" height="1.1"/><rect x="331.6" y="156.6" width="9.6" height="1.1"/></g><circle cx="349.4" cy="156.6" r="7.8" fill="#fff"/><g fill="#960096"><path d="M342.9 155.4 C342.9 150.4 345.8 148.3 349.4 148.3 C353.1 148.3 355.9 150.5 355.8 155.6 C355.7 160.2 352.9 164 349.4 164 C345.9 164 343 160.2 342.9 155.4 Z"/><path d="M335.4 178.8 v-6.2 c0 -2.4 1.4 -3.6 3.4 -4.2 l6.6 -2.2 l3.8 5.6 l3.8 -5.6 l6.6 2.2 c2 0.6 3.4 1.8 3.4 4.2 v6.2 Z"/></g><path d="M344.2 155.8 C345.6 153.8 350 152.8 354.5 154.8 C354.7 159.4 352.2 162.7 349.4 162.7 C346.6 162.7 344.2 159.4 344.2 155.8 Z" fill="#fff"/><path d="M348.5 166.8 h1.6 l0.9 5.8 l-1.7 2.4 l-1.7 -2.4 Z" fill="#fff"/><rect x="354.6" y="173" width="4.6" height="1.6" fill="#fff"/><circle cx="19.4" cy="259.3" r="6" fill="#9a1a9a"/><circle cx="19.4" cy="259.3" r="4.6" fill="none" stroke="#fff" stroke-width="0.6"/><path d="M16 261.5 C16.5 257.5 19 256.5 22.6 257.6 C21.5 260.8 19.5 262 16 261.5 Z" fill="#fff" opacity="0.9"/><circle cx="18" cy="258" r="1.1" fill="#fff"/><text x="29.00" y="261.44" font-size="5.95" fill="#939393">南京理工大学泰州科技学院<tspan font-size="6.4"> | University Name</tspan></text><text x="444.30" y="261.94" font-size="6.5" fill="#939393" text-anchor="end">www.pptgenius.com</text><rect x="448.2" y="256.6" width="0.6" height="6.4" fill="#c8c8c8"/><text x="452.00" y="261.79" font-size="5.8" fill="#333" font-weight="bold">26</text></svg>
<svg class="s" style="left:485px;top:560px" width="475" height="270" viewBox="0 0 475 270"><rect width="475" height="270" fill="#fff"/><rect x="0" y="0" width="475" height="29" fill="#960096"/><text x="22.50" y="19.70" font-size="15" fill="#fff" font-weight="bold">季度数据对比</text><defs><filter id="gl" x="-30%" y="-30%" width="160%" height="160%"><feGaussianBlur stdDeviation="4.2"/></filter></defs><text x="129.40" y="80.04" font-size="14" fill="#222" text-anchor="middle">数据比例数据对比图表</text><g filter="url(#gl)" opacity="0.62" transform="translate(-4 5)"><path d="M69.01 189.39 A63.75 63.75 0 1 1 188.19 155.22 L169.46 156.04 A45 45 0 1 0 85.33 180.16 Z" fill="#960096"/><path d="M188.19 155.22 A63.75 63.75 0 0 1 148.90 216.90 L141.72 199.57 A45 45 0 0 0 169.46 156.04 Z" fill="#bfbfbf"/><path d="M148.90 216.90 A63.75 63.75 0 0 1 69.01 189.39 L85.33 180.16 A45 45 0 0 0 141.72 199.57 Z" fill="#8c8c8c"/></g><path d="M69.01 189.39 A63.75 63.75 0 1 1 188.19 155.22 L169.46 156.04 A45 45 0 1 0 85.33 180.16 Z" fill="#960096"/><path d="M188.19 155.22 A63.75 63.75 0 0 1 148.90 216.90 L141.72 199.57 A45 45 0 0 0 169.46 156.04 Z" fill="#bfbfbf"/><path d="M148.90 216.90 A63.75 63.75 0 0 1 69.01 189.39 L85.33 180.16 A45 45 0 0 0 141.72 199.57 Z" fill="#8c8c8c"/><text x="124.50" y="147.32" font-size="12" fill="#333" text-anchor="middle">总天数</text><text x="124.50" y="175.16" font-size="31" fill="#960096" text-anchor="middle" font-weight="bold">90</text><rect x="209.3" y="140.20" width="3.6" height="3.6" fill="#960096"/><text x="214.60" y="144.38" font-size="6.6" fill="#555">分类1</text><rect x="209.3" y="156.95" width="3.6" height="3.6" fill="#bfbfbf"/><text x="214.60" y="161.13" font-size="6.6" fill="#555">分类2</text><rect x="209.3" y="173.95" width="3.6" height="3.6" fill="#8c8c8c"/><text x="214.60" y="178.13" font-size="6.6" fill="#555">分类3</text><text x="270.60" y="76.86" font-size="9.9" fill="#8c008c" font-weight="bold">在这里输入标题</text><text x="270.60" y="97.24" font-size="9" fill="#2b2b2b" class="cj">标题数字等都可以通过点击和重新输入进行更</text><text x="270.60" y="113.74" font-size="9" fill="#2b2b2b" class="cj">改，顶部“开始”面板中可以对字体、字号、</text><text x="270.60" y="130.04" font-size="9" fill="#2b2b2b" class="cj">颜色、行距等进行修改标题数字等都可以通过</text><text x="270.60" y="146.44" font-size="9" fill="#2b2b2b" class="cj">点击和重新输入进行更改。</text><text x="270.60" y="179.96" font-size="9.9" fill="#8c008c" font-weight="bold">在这里输入标题</text><text x="270.60" y="200.74" font-size="9" fill="#2b2b2b" class="cj">标题数字等都可以通过点击和重新输入进行更</text><text x="270.60" y="217.04" font-size="9" fill="#2b2b2b" class="cj">改，顶部“开始”面板中可以对字体进行更改。</text><circle cx="19.4" cy="259.3" r="6" fill="#9a1a9a"/><circle cx="19.4" cy="259.3" r="4.6" fill="none" stroke="#fff" stroke-width="0.6"/><path d="M16 261.5 C16.5 257.5 19 256.5 22.6 257.6 C21.5 260.8 19.5 262 16 261.5 Z" fill="#fff" opacity="0.9"/><circle cx="18" cy="258" r="1.1" fill="#fff"/><text x="29.00" y="261.44" font-size="5.95" fill="#939393">南京理工大学泰州科技学院<tspan font-size="6.4"> | University Name</tspan></text><text x="444.30" y="261.94" font-size="6.5" fill="#939393" text-anchor="end">www.pptgenius.com</text><rect x="448.2" y="256.6" width="0.6" height="6.4" fill="#c8c8c8"/><text x="452.00" y="261.79" font-size="5.8" fill="#333" font-weight="bold">27</text></svg>
<svg class="s" style="left:0px;top:840px" width="475" height="270" viewBox="0 0 475 270"><rect width="475" height="270" fill="#fff"/><rect x="0" y="0" width="475" height="29" fill="#960096"/><rect x="20.1" y="8.2" width="11.2" height="11.2" fill="#fff"/><rect x="21.5" y="9.6" width="7.5" height="7.5" fill="#960096"/><rect x="29" y="9.6" width="1" height="8.5" fill="#d9a3d9"/><rect x="21.5" y="17.1" width="8.5" height="1" fill="#d9a3d9"/><text x="36.00" y="19.70" font-size="15" fill="#fff" font-weight="bold">数据表格</text><rect x="18.75" y="75.75" width="437.75" height="50.75" fill="#fff"/><rect x="18.75" y="75.75" width="75.75" height="50.75" fill="#f2f2f2"/><rect x="18.75" y="58" width="437.75" height="17.75" fill="#960096"/><text x="35.00" y="69.81" font-size="7.6" fill="#fff" text-anchor="middle" font-weight="bold">序号</text><text x="72.88" y="69.81" font-size="7.6" fill="#fff" text-anchor="middle" font-weight="bold">项目</text><text x="213.50" y="69.81" font-size="7.6" fill="#fff" text-anchor="middle" font-weight="bold">行动方案</text><text x="362.75" y="69.81" font-size="7.6" fill="#fff" text-anchor="middle" font-weight="bold">负责人</text><text x="424.75" y="69.81" font-size="7.6" fill="#fff" text-anchor="middle" font-weight="bold">时间节点</text><path d="M18.75 75.75 V126.5 H456.5 V75.75" fill="none" stroke="#d4d4d4" stroke-width="0.6"/><rect x="50.95" y="75.75" width="0.6" height="50.75" fill="#d4d4d4"/><rect x="94.20" y="75.75" width="0.6" height="50.75" fill="#d4d4d4"/><rect x="332.20" y="75.75" width="0.6" height="50.75" fill="#d4d4d4"/><rect x="392.70" y="75.75" width="0.6" height="50.75" fill="#d4d4d4"/><rect x="18.75" y="100.95" width="32.5" height="0.6" fill="#d4d4d4"/><rect x="94.5" y="100.95" width="362.0" height="0.6" fill="#d4d4d4"/><text x="35.00" y="91.02" font-size="7" fill="#555" text-anchor="middle">1</text><text x="35.00" y="116.52" font-size="7" fill="#555" text-anchor="middle">2</text><text x="72.88" y="99.78" font-size="6.9" fill="#444" text-anchor="middle">保有客户</text><text x="72.88" y="107.78" font-size="6.9" fill="#444" text-anchor="middle">激活</text><text x="98.30" y="87.00" font-size="6.95" fill="#2b2b2b" class="cj">标题数字等都可以通过点击和重新输入进行更改，顶部“开始”面板中可以</text><text x="98.30" y="95.20" font-size="6.95" fill="#2b2b2b" class="cj">对字体、字号、颜色、行距等进行修改</text><text x="98.30" y="112.10" font-size="6.95" fill="#2b2b2b" class="cj">标题数字等都可以通过点击和重新输入进行更改，顶部“开始”面板中可以</text><text x="98.30" y="120.30" font-size="6.95" fill="#2b2b2b" class="cj">对字体、字号、颜色、行距等进行修改</text><text x="362.75" y="91.20" font-size="6.95" fill="#2b2b2b" text-anchor="middle">张三</text><text x="362.75" y="116.50" font-size="6.95" fill="#2b2b2b" text-anchor="middle">李四</text><text x="424.75" y="91.27" font-size="7.15" fill="#222" text-anchor="middle">11月30日前</text><text x="424.75" y="116.57" font-size="7.15" fill="#222" text-anchor="middle">11月15日前</text><rect x="18.75" y="157.5" width="437.75" height="67.5" fill="#fff"/><rect x="18.75" y="157.5" width="75.75" height="67.5" fill="#f2f2f2"/><rect x="18.75" y="140" width="437.75" height="17.5" fill="#7f7f7f"/><text x="35.00" y="151.69" font-size="7.6" fill="#fff" text-anchor="middle" font-weight="bold">序号</text><text x="72.88" y="151.69" font-size="7.6" fill="#fff" text-anchor="middle" font-weight="bold">项目</text><text x="213.50" y="151.69" font-size="7.6" fill="#fff" text-anchor="middle" font-weight="bold">行动方案</text><text x="362.75" y="151.69" font-size="7.6" fill="#fff" text-anchor="middle" font-weight="bold">负责人</text><text x="424.75" y="151.69" font-size="7.6" fill="#fff" text-anchor="middle" font-weight="bold">时间节点</text><path d="M18.75 157.5 V225 H456.5 V157.5" fill="none" stroke="#d4d4d4" stroke-width="0.6"/><rect x="50.95" y="157.5" width="0.6" height="67.5" fill="#d4d4d4"/><rect x="94.20" y="157.5" width="0.6" height="67.5" fill="#d4d4d4"/><rect x="332.20" y="157.5" width="0.6" height="67.5" fill="#d4d4d4"/><rect x="392.70" y="157.5" width="0.6" height="67.5" fill="#d4d4d4"/><rect x="18.75" y="174.2" width="32.5" height="0.6" fill="#d4d4d4"/><rect x="94.5" y="174.2" width="362.0" height="0.6" fill="#d4d4d4"/><rect x="18.75" y="191.2" width="32.5" height="0.6" fill="#d4d4d4"/><rect x="94.5" y="191.2" width="362.0" height="0.6" fill="#d4d4d4"/><rect x="51.25" y="191.2" width="43.25" height="0.6" fill="#d4d4d4"/><rect x="18.75" y="208.2" width="32.5" height="0.6" fill="#d4d4d4"/><rect x="94.5" y="208.2" width="362.0" height="0.6" fill="#d4d4d4"/><text x="35.00" y="168.77" font-size="7" fill="#555" text-anchor="middle">1</text><text x="98.30" y="168.75" font-size="6.95" fill="#2b2b2b">标题数字等都可以通过点击和重新输入进行更改</text><text x="362.75" y="168.75" font-size="6.95" fill="#222" text-anchor="middle">内训师</text><text x="424.75" y="168.82" font-size="7.15" fill="#222" text-anchor="middle">即日实施</text><text x="35.00" y="185.77" font-size="7" fill="#555" text-anchor="middle">2</text><text x="98.30" y="185.75" font-size="6.95" fill="#2b2b2b">标题数字等都可以通过点击和重新输入进行更改</text><text x="362.75" y="185.75" font-size="6.95" fill="#222" text-anchor="middle">内训师</text><text x="424.75" y="185.82" font-size="7.15" fill="#222" text-anchor="middle">11月</text><text x="35.00" y="202.52" font-size="7" fill="#555" text-anchor="middle">3</text><text x="98.30" y="202.50" font-size="6.95" fill="#2b2b2b">标题数字等都可以通过点击和重新输入进行更改</text><text x="362.75" y="202.50" font-size="6.95" fill="#222" text-anchor="middle">内训师</text><text x="424.75" y="202.57" font-size="7.15" fill="#222" text-anchor="middle">11月</text><text x="35.00" y="219.52" font-size="7" fill="#555" text-anchor="middle">4</text><text x="98.30" y="219.50" font-size="6.95" fill="#2b2b2b">标题数字等都可以通过点击和重新输入进行更改</text><text x="362.75" y="219.50" font-size="6.95" fill="#222" text-anchor="middle">内训师</text><text x="424.75" y="219.57" font-size="7.15" fill="#222" text-anchor="middle">至少1次 /月</text><text x="72.88" y="177.48" font-size="6.9" fill="#444" text-anchor="middle">服务标准</text><text x="72.88" y="211.28" font-size="6.9" fill="#444" text-anchor="middle">销售技能</text><circle cx="19.4" cy="259.3" r="6" fill="#9a1a9a"/><circle cx="19.4" cy="259.3" r="4.6" fill="none" stroke="#fff" stroke-width="0.6"/><path d="M16 261.5 C16.5 257.5 19 256.5 22.6 257.6 C21.5 260.8 19.5 262 16 261.5 Z" fill="#fff" opacity="0.9"/><circle cx="18" cy="258" r="1.1" fill="#fff"/><text x="29.00" y="261.44" font-size="5.95" fill="#939393">南京理工大学泰州科技学院<tspan font-size="6.4"> | University Name</tspan></text><text x="444.30" y="261.94" font-size="6.5" fill="#939393" text-anchor="end">www.pptgenius.com</text><rect x="448.2" y="256.6" width="0.6" height="6.4" fill="#c8c8c8"/><text x="452.00" y="261.79" font-size="5.8" fill="#333" font-weight="bold">28</text></svg>
<svg class="s" style="left:485px;top:840px" width="475" height="270" viewBox="0 0 475 270"><rect width="475" height="270" fill="#fff"/><rect x="0" y="0" width="475" height="29" fill="#960096"/><rect x="20.1" y="8.2" width="11.2" height="11.2" fill="#fff"/><rect x="21.5" y="9.6" width="7.5" height="7.5" fill="#960096"/><rect x="29" y="9.6" width="1" height="8.5" fill="#d9a3d9"/><rect x="21.5" y="17.1" width="8.5" height="1" fill="#d9a3d9"/><text x="36.00" y="19.70" font-size="15" fill="#fff" font-weight="bold">数据对比</text><rect x="35.75" y="67.5" width="101.3" height="87" fill="#e4e2e3"/><rect x="137.0" y="67.5" width="86.75" height="87" fill="#9a129a"/><g transform="translate(80.25 102.50) scale(1.05)"><rect x="0.7" y="0.7" width="17.2" height="14.4" rx="0.8" fill="none" stroke="#808080" stroke-width="1.1"/><path d="M2.4 13.4 V10.2 L6.4 6.2 L9.2 9 L11.4 7.2 L16.2 11.4 V13.4 Z" fill="#808080"/><circle cx="12.6" cy="4.4" r="1.5" fill="#808080"/><circle cx="16.2" cy="14" r="4.4" fill="#e4e2e3"/><circle cx="16.2" cy="14" r="3.6" fill="#808080"/><rect x="13.9" y="13.4" width="4.6" height="1.2" fill="#fff"/><rect x="15.6" y="11.7" width="1.2" height="4.6" fill="#fff"/></g><circle cx="180.95" cy="110" r="30" fill="none" stroke="#d192d1" stroke-width="0.9"/><path d="M180.95 80 A30 30 0 1 1 163.32 134.27" fill="none" stroke="#fff" stroke-width="2.9"/><text x="188.35" y="117.90" text-anchor="end" font-size="21" fill="#fff">60</text><text x="188.95" y="117.90" font-size="10" fill="#fff">%</text><text x="36.35" y="190.55" font-size="11.8" fill="#8c008c" font-weight="bold">点击此处添加您的标题</text><text x="36.55" y="205.04" font-size="7.05" fill="#2b2b2b" class="cj">标题数字等都可以通过点击和重新输入进行更改，顶部“开</text><text x="36.55" y="218.04" font-size="7.05" fill="#2b2b2b" class="cj">始”面板中可以对字体、字号、颜色</text><rect x="250" y="67.5" width="101.3" height="87" fill="#e4e2e3"/><rect x="351.25" y="67.5" width="86.75" height="87" fill="#9a129a"/><g transform="translate(294.50 102.50) scale(1.05)"><rect x="0.7" y="0.7" width="17.2" height="14.4" rx="0.8" fill="none" stroke="#808080" stroke-width="1.1"/><path d="M2.4 13.4 V10.2 L6.4 6.2 L9.2 9 L11.4 7.2 L16.2 11.4 V13.4 Z" fill="#808080"/><circle cx="12.6" cy="4.4" r="1.5" fill="#808080"/><circle cx="16.2" cy="14" r="4.4" fill="#e4e2e3"/><circle cx="16.2" cy="14" r="3.6" fill="#808080"/><rect x="13.9" y="13.4" width="4.6" height="1.2" fill="#fff"/><rect x="15.6" y="11.7" width="1.2" height="4.6" fill="#fff"/></g><circle cx="395.2" cy="110" r="30" fill="none" stroke="#d192d1" stroke-width="0.9"/><path d="M395.2 80 A30 30 0 1 1 366.67 100.73" fill="none" stroke="#fff" stroke-width="2.9"/><text x="402.60" y="117.90" text-anchor="end" font-size="21" fill="#fff">80</text><text x="403.20" y="117.90" font-size="10" fill="#fff">%</text><text x="250.60" y="190.55" font-size="11.8" fill="#8c008c" font-weight="bold">点击此处添加您的标题</text><text x="250.80" y="205.04" font-size="7.05" fill="#2b2b2b" class="cj">标题数字等都可以通过点击和重新输入进行更改，顶部“开</text><text x="250.80" y="218.04" font-size="7.05" fill="#2b2b2b" class="cj">始”面板中可以对字体、字号、颜色</text><circle cx="19.4" cy="259.3" r="6" fill="#9a1a9a"/><circle cx="19.4" cy="259.3" r="4.6" fill="none" stroke="#fff" stroke-width="0.6"/><path d="M16 261.5 C16.5 257.5 19 256.5 22.6 257.6 C21.5 260.8 19.5 262 16 261.5 Z" fill="#fff" opacity="0.9"/><circle cx="18" cy="258" r="1.1" fill="#fff"/><text x="29.00" y="261.44" font-size="5.95" fill="#939393">南京理工大学泰州科技学院<tspan font-size="6.4"> | University Name</tspan></text><text x="444.30" y="261.94" font-size="6.5" fill="#939393" text-anchor="end">www.pptgenius.com</text><rect x="448.2" y="256.6" width="0.6" height="6.4" fill="#c8c8c8"/><text x="452.00" y="261.79" font-size="5.8" fill="#333" font-weight="bold">29</text></svg>
<svg class="s" style="left:0px;top:1120px" width="475" height="270" viewBox="0 0 475 270"><rect width="475" height="270" fill="#fff"/><rect x="0" y="0" width="475" height="29" fill="#960096"/><rect x="20.1" y="8.2" width="11.2" height="11.2" fill="#fff"/><rect x="21.5" y="9.6" width="7.5" height="7.5" fill="#960096"/><rect x="29" y="9.6" width="1" height="8.5" fill="#d9a3d9"/><rect x="21.5" y="17.1" width="8.5" height="1" fill="#d9a3d9"/><text x="36.00" y="19.70" font-size="15" fill="#fff" font-weight="bold">目录要点</text><rect x="237.2" y="56" width="0.7" height="178" fill="#d2d2d2"/><path d="M27.5 68.75 h30 v22.5 l-15 6.3 l-15 -6.3 Z" fill="#960096"/><text x="42.5" y="88.95" text-anchor="middle" font-size="18.5" font-weight="bold" fill="#fff">01</text><text x="67.00" y="78.89" font-size="10.8" fill="#8c008c" font-weight="bold">点击此处添加标题</text><text x="67.00" y="91.64" font-size="5.95" fill="#2b2b2b">标题数字等都可以通过点击和重新输入进行更改</text><path d="M27.5 131.25 h30 v22.5 l-15 6.3 l-15 -6.3 Z" fill="#960096"/><text x="42.5" y="151.45" text-anchor="middle" font-size="18.5" font-weight="bold" fill="#fff">02</text><text x="67.00" y="140.09" font-size="10.8" fill="#8c008c" font-weight="bold">点击此处添加标题</text><text x="67.00" y="152.84" font-size="5.95" fill="#2b2b2b">标题数字等都可以通过点击和重新输入进行更改</text><path d="M27.5 193.75 h30 v22.5 l-15 6.3 l-15 -6.3 Z" fill="#960096"/><text x="42.5" y="213.95" text-anchor="middle" font-size="18.5" font-weight="bold" fill="#fff">03</text><text x="67.00" y="203.89" font-size="10.8" fill="#8c008c" font-weight="bold">点击此处添加标题</text><text x="67.00" y="216.64" font-size="5.95" fill="#2b2b2b">标题数字等都可以通过点击和重新输入进行更改</text><path d="M272.5 68.75 h30 v22.5 l-15 6.3 l-15 -6.3 Z" fill="#960096"/><text x="287.5" y="88.95" text-anchor="middle" font-size="18.5" font-weight="bold" fill="#fff">04</text><text x="312.00" y="78.89" font-size="10.8" fill="#8c008c" font-weight="bold">点击此处添加标题</text><text x="312.00" y="91.64" font-size="5.95" fill="#2b2b2b">标题数字等都可以通过点击和重新输入进行更改</text><path d="M272.5 131.25 h30 v22.5 l-15 6.3 l-15 -6.3 Z" fill="#960096"/><text x="287.5" y="151.45" text-anchor="middle" font-size="18.5" font-weight="bold" fill="#fff">05</text><text x="312.00" y="140.09" font-size="10.8" fill="#8c008c" font-weight="bold">点击此处添加标题</text><text x="312.00" y="152.84" font-size="5.95" fill="#2b2b2b">标题数字等都可以通过点击和重新输入进行更改</text><path d="M272.5 193.75 h30 v22.5 l-15 6.3 l-15 -6.3 Z" fill="#960096"/><text x="287.5" y="213.95" text-anchor="middle" font-size="18.5" font-weight="bold" fill="#fff">06</text><text x="312.00" y="203.89" font-size="10.8" fill="#8c008c" font-weight="bold">点击此处添加标题</text><text x="312.00" y="216.64" font-size="5.95" fill="#2b2b2b">标题数字等都可以通过点击和重新输入进行更改</text><circle cx="19.4" cy="259.3" r="6" fill="#9a1a9a"/><circle cx="19.4" cy="259.3" r="4.6" fill="none" stroke="#fff" stroke-width="0.6"/><path d="M16 261.5 C16.5 257.5 19 256.5 22.6 257.6 C21.5 260.8 19.5 262 16 261.5 Z" fill="#fff" opacity="0.9"/><circle cx="18" cy="258" r="1.1" fill="#fff"/><text x="29.00" y="261.44" font-size="5.95" fill="#939393">南京理工大学泰州科技学院<tspan font-size="6.4"> | University Name</tspan></text><text x="444.30" y="261.94" font-size="6.5" fill="#939393" text-anchor="end">www.pptgenius.com</text><rect x="448.2" y="256.6" width="0.6" height="6.4" fill="#c8c8c8"/><text x="452.00" y="261.79" font-size="5.8" fill="#333" font-weight="bold">30</text></svg>
<svg class="s" style="left:485px;top:1120px" width="475" height="270" viewBox="0 0 475 270"><rect width="475" height="270" fill="#fff"/><rect x="0" y="0" width="475" height="29" fill="#960096"/><rect x="20.1" y="8.2" width="11.2" height="11.2" fill="#fff"/><rect x="21.5" y="9.6" width="7.5" height="7.5" fill="#960096"/><rect x="29" y="9.6" width="1" height="8.5" fill="#d9a3d9"/><rect x="21.5" y="17.1" width="8.5" height="1" fill="#d9a3d9"/><text x="36.00" y="19.70" font-size="15" fill="#fff" font-weight="bold">风险分析</text><path d="M171.75 115.70 L192.30 79.64 Q198.30 69.11 210.30 69.11 L226.80 69.11 C227.75 69.68 230.51 71.10 232.50 72.50 C234.49 73.90 236.67 75.62 238.75 77.50 C240.83 79.38 242.92 81.62 245.00 83.80 C247.08 85.98 249.17 88.32 251.25 90.60 C253.33 92.88 255.52 95.08 257.50 97.50 C259.48 99.92 261.56 102.73 263.10 105.10 C264.64 107.47 266.14 110.60 266.75 111.70 A40.4 40.93 0 0 0 228.13 101.94 C226.89 101.93 223.46 101.68 220.67 101.85 C217.87 102.01 214.42 102.43 211.37 102.96 C208.31 103.48 205.34 104.30 202.34 104.99 C199.35 105.68 196.31 106.34 193.41 107.07 C190.50 107.81 187.55 108.52 184.89 109.41 C182.24 110.29 179.69 111.34 177.50 112.39 C175.30 113.44 172.71 115.15 171.75 115.70 Z" fill="#8c088c"/><path d="M226.80 69.11 L267.90 69.11 Q279.90 69.11 285.90 79.64 L294.15 94.12 C294.14 95.23 294.30 98.36 294.10 100.81 C293.91 103.26 293.52 106.02 292.96 108.79 C292.39 111.56 291.52 114.51 290.69 117.43 C289.87 120.35 288.92 123.34 288.01 126.31 C287.10 129.28 286.31 132.30 285.23 135.24 C284.15 138.18 282.79 141.42 281.53 143.95 C280.28 146.49 278.35 149.37 277.72 150.45 A40.4 40.93 0 0 0 266.75 111.70 C266.14 110.60 264.64 107.47 263.10 105.10 C261.56 102.73 259.48 99.92 257.50 97.50 C255.52 95.08 253.33 92.88 251.25 90.60 C249.17 88.32 247.08 85.98 245.00 83.80 C242.92 81.62 240.83 79.38 238.75 77.50 C236.67 75.62 234.49 73.90 232.50 72.50 C230.51 71.10 227.75 69.68 226.80 69.11 Z" fill="#96169a"/><path d="M294.15 94.12 L314.70 130.17 Q320.70 140.70 314.70 151.23 L306.45 165.70 C305.49 166.25 302.90 167.96 300.70 169.01 C298.51 170.06 295.96 171.11 293.31 171.99 C290.65 172.88 287.70 173.59 284.79 174.33 C281.89 175.06 278.85 175.72 275.86 176.41 C272.86 177.10 269.89 177.92 266.83 178.44 C263.78 178.97 260.33 179.39 257.53 179.55 C254.74 179.72 251.31 179.47 250.07 179.46 A40.4 40.93 0 0 0 277.72 150.45 C278.35 149.37 280.28 146.49 281.53 143.95 C282.79 141.42 284.15 138.18 285.23 135.24 C286.31 132.30 287.10 129.28 288.01 126.31 C288.92 123.34 289.87 120.35 290.69 117.43 C291.52 114.51 292.39 111.56 292.96 108.79 C293.52 106.02 293.91 103.26 294.10 100.81 C294.30 98.36 294.14 95.23 294.15 94.12 Z" fill="#a02ca2"/><path d="M306.45 165.70 L285.90 201.76 Q279.90 212.29 267.90 212.29 L251.40 212.29 C250.45 211.72 247.69 210.30 245.70 208.90 C243.71 207.50 241.53 205.78 239.45 203.90 C237.37 202.02 235.28 199.78 233.20 197.60 C231.12 195.42 229.03 193.08 226.95 190.80 C224.87 188.52 222.68 186.32 220.70 183.90 C218.72 181.48 216.64 178.67 215.10 176.30 C213.56 173.93 212.06 170.80 211.45 169.70 A40.4 40.93 0 0 0 250.07 179.46 C251.31 179.47 254.74 179.72 257.53 179.55 C260.33 179.39 263.78 178.97 266.83 178.44 C269.89 177.92 272.86 177.10 275.86 176.41 C278.85 175.72 281.89 175.06 284.79 174.33 C287.70 173.59 290.65 172.88 293.31 171.99 C295.96 171.11 298.51 170.06 300.70 169.01 C302.90 167.96 305.49 166.25 306.45 165.70 Z" fill="#ac48ae"/><path d="M251.40 212.29 L210.30 212.29 Q198.30 212.29 192.30 201.76 L184.05 187.28 C184.06 186.17 183.90 183.04 184.10 180.59 C184.29 178.14 184.68 175.38 185.24 172.61 C185.81 169.84 186.68 166.89 187.51 163.97 C188.33 161.05 189.28 158.06 190.19 155.09 C191.10 152.12 191.89 149.10 192.97 146.16 C194.05 143.22 195.41 139.98 196.67 137.45 C197.92 134.91 199.85 132.03 200.48 130.95 A40.4 40.93 0 0 0 211.45 169.70 C212.06 170.80 213.56 173.93 215.10 176.30 C216.64 178.67 218.72 181.48 220.70 183.90 C222.68 186.32 224.87 188.52 226.95 190.80 C229.03 193.08 231.12 195.42 233.20 197.60 C235.28 199.78 237.37 202.02 239.45 203.90 C241.53 205.78 243.71 207.50 245.70 208.90 C247.69 210.30 250.45 211.72 251.40 212.29 Z" fill="#b868ba"/><path d="M184.05 187.28 L163.50 151.23 Q157.50 140.70 163.50 130.17 L171.75 115.70 C172.71 115.15 175.30 113.44 177.50 112.39 C179.69 111.34 182.24 110.29 184.89 109.41 C187.55 108.52 190.50 107.81 193.41 107.07 C196.31 106.34 199.35 105.68 202.34 104.99 C205.34 104.30 208.31 103.48 211.37 102.96 C214.42 102.43 217.87 102.01 220.67 101.85 C223.46 101.68 226.89 101.93 228.13 101.94 A40.4 40.93 0 0 0 200.48 130.95 C199.85 132.03 197.92 134.91 196.67 137.45 C195.41 139.98 194.05 143.22 192.97 146.16 C191.89 149.10 191.10 152.12 190.19 155.09 C189.28 158.06 188.33 161.05 187.51 163.97 C186.68 166.89 185.81 169.84 185.24 172.61 C184.68 175.38 184.29 178.14 184.10 180.59 C183.90 183.04 184.06 186.17 184.05 187.28 Z" fill="#c88cc8"/><path d="M169.74 116.85 L171.75 115.70 C172.71 115.15 175.30 113.44 177.50 112.39 C179.69 111.34 182.24 110.29 184.89 109.41 C187.55 108.52 190.50 107.81 193.41 107.07 C196.31 106.34 199.35 105.68 202.34 104.99 C205.34 104.30 208.31 103.48 211.37 102.96 C214.42 102.43 217.87 102.01 220.67 101.85 C223.46 101.68 226.89 101.93 228.13 101.94" fill="none" stroke="#fff" stroke-width="2.2"/><path d="M224.81 67.93 L226.80 69.11 C227.75 69.68 230.51 71.10 232.50 72.50 C234.49 73.90 236.67 75.62 238.75 77.50 C240.83 79.38 242.92 81.62 245.00 83.80 C247.08 85.98 249.17 88.32 251.25 90.60 C253.33 92.88 255.52 95.08 257.50 97.50 C259.48 99.92 261.56 102.73 263.10 105.10 C264.64 107.47 266.14 110.60 266.75 111.70" fill="none" stroke="#fff" stroke-width="2.2"/><path d="M294.17 91.77 L294.15 94.12 C294.14 95.23 294.30 98.36 294.10 100.81 C293.91 103.26 293.52 106.02 292.96 108.79 C292.39 111.56 291.52 114.51 290.69 117.43 C289.87 120.35 288.92 123.34 288.01 126.31 C287.10 129.28 286.31 132.30 285.23 135.24 C284.15 138.18 282.79 141.42 281.53 143.95 C280.28 146.49 278.35 149.37 277.72 150.45" fill="none" stroke="#fff" stroke-width="2.2"/><path d="M308.46 164.55 L306.45 165.70 C305.49 166.25 302.90 167.96 300.70 169.01 C298.51 170.06 295.96 171.11 293.31 171.99 C290.65 172.88 287.70 173.59 284.79 174.33 C281.89 175.06 278.85 175.72 275.86 176.41 C272.86 177.10 269.89 177.92 266.83 178.44 C263.78 178.97 260.33 179.39 257.53 179.55 C254.74 179.72 251.31 179.47 250.07 179.46" fill="none" stroke="#fff" stroke-width="2.2"/><path d="M253.40 213.47 L251.40 212.29 C250.45 211.72 247.69 210.30 245.70 208.90 C243.71 207.50 241.53 205.78 239.45 203.90 C237.37 202.02 235.28 199.78 233.20 197.60 C231.12 195.42 229.03 193.08 226.95 190.80 C224.87 188.52 222.68 186.32 220.70 183.90 C218.72 181.48 216.64 178.67 215.10 176.30 C213.56 173.93 212.06 170.80 211.45 169.70" fill="none" stroke="#fff" stroke-width="2.2"/><path d="M184.03 189.63 L184.05 187.28 C184.06 186.17 183.90 183.04 184.10 180.59 C184.29 178.14 184.68 175.38 185.24 172.61 C185.81 169.84 186.68 166.89 187.51 163.97 C188.33 161.05 189.28 158.06 190.19 155.09 C191.10 152.12 191.89 149.10 192.97 146.16 C194.05 143.22 195.41 139.98 196.67 137.45 C197.92 134.91 199.85 132.03 200.48 130.95" fill="none" stroke="#fff" stroke-width="2.2"/><ellipse cx="239.1" cy="140.7" rx="40.4" ry="40.93" fill="#fff"/><g transform="translate(210.8 87.4)" fill="#fff"><path d="M-3.6 -9.6 C-2.4 -10.6 -1 -9.8 0 -10.2 C1 -9.8 2.4 -10.6 3.6 -9.6 L2.4 -6.4 H-2.4 Z"/><path d="M-2.6 -5.6 H2.6 C6.4 -3 8.4 1.6 8.2 5.4 C8.1 7.8 6.6 9 4.4 9 H-4.4 C-6.6 9 -8.1 7.8 -8.2 5.4 C-8.4 1.6 -6.4 -3 -2.6 -5.6 Z"/><text x="0" y="6.4" text-anchor="middle" font-size="9.5" font-weight="bold" fill="#8c088c">¥</text></g><g transform="translate(270.1 85.6)"><ellipse cx="-3.4" cy="5.6" rx="6.6" ry="2.3" fill="#fff" stroke="#96169a" stroke-width="0.7"/><ellipse cx="-3.4" cy="2.6" rx="6.6" ry="2.3" fill="#fff" stroke="#96169a" stroke-width="0.7"/><ellipse cx="-3.4" cy="-0.4" rx="6.6" ry="2.3" fill="#fff" stroke="#96169a" stroke-width="0.7"/><ellipse cx="-3.4" cy="-3.4" rx="6.6" ry="2.3" fill="#fff" stroke="#96169a" stroke-width="0.7"/><ellipse cx="-3.4" cy="-6.4" rx="6.6" ry="2.3" fill="#fff" stroke="#96169a" stroke-width="0.7"/><ellipse cx="5.6" cy="-0.6" rx="4.2" ry="1.6" fill="#fff" stroke="#96169a" stroke-width="0.6"/><ellipse cx="5.6" cy="-3" rx="4.2" ry="1.6" fill="#fff" stroke="#96169a" stroke-width="0.6"/><ellipse cx="5.6" cy="-5.4" rx="4.2" ry="1.6" fill="#fff" stroke="#96169a" stroke-width="0.6"/><circle cx="5" cy="4.6" r="5.2" fill="#fff" stroke="#96169a" stroke-width="0.8"/><circle cx="5" cy="4.6" r="3.7" fill="none" stroke="#96169a" stroke-width="0.6"/><text x="5" y="6.9" text-anchor="middle" font-size="6.4" font-weight="bold" fill="#96169a">$</text></g><g transform="translate(299.9 145.9)" fill="#fff"><path d="M1.4 -7.6 C4.6 -8 6.4 -6 6.2 -3.2 C6 -1 5 0.4 4.6 1.6 C5.2 3 8.2 3.4 9.6 4.4 C10.4 5 10.2 6.4 10.2 7.6 H3.2 Z"/><path d="M-2.4 -7.8 C0.6 -7.8 2.4 -5.8 2.2 -3 C2 -0.8 1 0.6 0.6 1.8 C1.2 3.2 4.6 3.6 6 4.6 C6.9 5.2 6.8 6.4 6.8 7.6 H-10.2 C-10.2 6.4 -10.3 5.2 -9.4 4.6 C-8 3.6 -5.6 3.2 -5 1.8 C-5.4 0.6 -6.4 -0.8 -6.6 -3 C-6.8 -5.8 -5.2 -7.8 -2.4 -7.8 Z" stroke="#a02ca2" stroke-width="0.6"/></g><g transform="translate(264.8 199)" fill="#fff"><path d="M-1.2 -8.2 A9.4 9.4 0 1 0 8.2 1.2 H-1.2 Z"/><path d="M1 -10 A9.2 9.2 0 0 1 10 -1 H1 Z M2.6 -8.2 V-2.6 H8.2 Z" fill-rule="evenodd"/><path d="M2.4 -8.6 L8.6 -2.4 L2.4 -2.4 Z" opacity="0.0"/></g><g transform="translate(211.3 198.3)" fill="#fff"><path d="M-10 -9.6 H1 V9.6 H-2.6 V5 H-6.4 V9.6 H-10 Z M-8 -7.4 V-4.6 H-5.6 V-7.4 Z M-3.4 -7.4 V-4.6 H-1 V-7.4 Z M-8 -3 V-0.2 H-5.6 V-3 Z M-3.4 -3 V-0.2 H-1 V-3 Z M-8 1.4 V4 H-5.6 V1.4 Z M-3.4 1.4 V4 H-1 V1.4 Z" fill-rule="evenodd"/><path d="M2.4 -3.6 H10 V9.6 H7.6 V7 H4.8 V9.6 H2.4 Z M4 -1.8 V-0.4 H8.4 V-1.8 Z M4 1 V2.4 H8.4 V1 Z M4 3.8 V5.2 H8.4 V3.8 Z" fill-rule="evenodd"/></g><g transform="translate(175.6 145)" fill="#fff" opacity="0.9"><circle cx="2" cy="-2.4" r="7" fill="#fff"/><text x="2" y="1.6" text-anchor="middle" font-size="11" fill="#c88cc8">¥</text><path d="M-10.4 3.4 C-8 1.6 -5 1.4 -2.6 2.6 L2.6 3 C4 3.2 4 4.8 2.6 5 L-1.4 5.2 L4.4 5.2 L8.6 2.8 C10 2.2 10.8 3.6 9.8 4.6 L4.6 8.2 C3.6 8.8 2.4 9 1.2 9 H-6 L-10.4 7.4 Z"/></g><text x="167.50" y="71.10" font-size="10" fill="#8c008c" text-anchor="end" font-weight="bold">点击此处添加标题</text><text x="167.50" y="85.43" font-size="7.3" fill="#2b2b2b" text-anchor="end">标题数字等都可以通过点击更改</text><text x="141.50" y="132.60" font-size="10" fill="#8c008c" text-anchor="end" font-weight="bold">点击此处添加标题</text><text x="141.50" y="146.93" font-size="7.3" fill="#2b2b2b" text-anchor="end">标题数字等都可以通过点击更改</text><text x="171.50" y="208.60" font-size="10" fill="#8c008c" text-anchor="end" font-weight="bold">点击此处添加标题</text><text x="171.50" y="222.93" font-size="7.3" fill="#2b2b2b" text-anchor="end">标题数字等都可以通过点击更改</text><text x="310.50" y="71.10" font-size="10" fill="#8c008c" font-weight="bold">点击此处添加标题</text><text x="310.50" y="85.43" font-size="7.3" fill="#2b2b2b">标题数字等都可以通过点击更改</text><text x="332.50" y="132.60" font-size="10" fill="#8c008c" font-weight="bold">点击此处添加标题</text><text x="332.50" y="146.93" font-size="7.3" fill="#2b2b2b">标题数字等都可以通过点击更改</text><text x="303.50" y="208.60" font-size="10" fill="#8c008c" font-weight="bold">点击此处添加标题</text><text x="303.50" y="222.93" font-size="7.3" fill="#2b2b2b">标题数字等都可以通过点击更改</text><circle cx="19.4" cy="259.3" r="6" fill="#9a1a9a"/><circle cx="19.4" cy="259.3" r="4.6" fill="none" stroke="#fff" stroke-width="0.6"/><path d="M16 261.5 C16.5 257.5 19 256.5 22.6 257.6 C21.5 260.8 19.5 262 16 261.5 Z" fill="#fff" opacity="0.9"/><circle cx="18" cy="258" r="1.1" fill="#fff"/><text x="29.00" y="261.44" font-size="5.95" fill="#939393">南京理工大学泰州科技学院<tspan font-size="6.4"> | University Name</tspan></text><text x="444.30" y="261.94" font-size="6.5" fill="#939393" text-anchor="end">www.pptgenius.com</text><rect x="448.2" y="256.6" width="0.6" height="6.4" fill="#c8c8c8"/><text x="452.00" y="261.79" font-size="5.8" fill="#333" font-weight="bold">31</text></svg>
</body>
</html>
